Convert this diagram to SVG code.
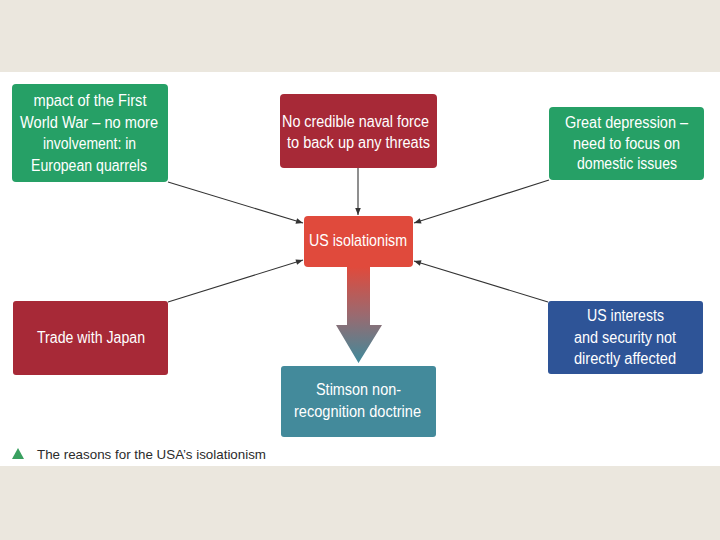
<svg xmlns="http://www.w3.org/2000/svg" width="720" height="540" viewBox="0 0 720 540">
<style>
.box{stroke:none}
.t{font-family:"Liberation Sans",Arial,sans-serif;font-size:16px;fill:#ffffff;text-anchor:middle}
.big{font-size:17px}
.cap{font-family:"Liberation Sans",Arial,sans-serif;font-size:13.5px;fill:#2b2b2b}
.con{stroke:#333333;stroke-width:1.1;fill:none;marker-end:url(#ah)}
</style>
<defs>
<marker id="ah" viewBox="0 0 10 10" refX="10" refY="5" markerWidth="9" markerHeight="7" markerUnits="userSpaceOnUse" orient="auto">
<path d="M0,1 L10,5 L0,9 Z" fill="#333333"/>
</marker>
<linearGradient id="grad" x1="0" y1="267" x2="0" y2="363" gradientUnits="userSpaceOnUse">
<stop offset="0" stop-color="#e04a3c"/>
<stop offset="0.5" stop-color="#9a6a70"/>
<stop offset="1" stop-color="#3f8a9b"/>
</linearGradient>
</defs>
<rect x="0" y="0" width="720" height="540" fill="#ebe7de"/>
<rect x="0" y="72" width="720" height="394" fill="#ffffff"/>

<g id="connectors">
<line class="con" x1="358" y1="168" x2="358" y2="215"/>
<line class="con" x1="168" y1="182" x2="303" y2="223"/>
<line class="con" x1="549" y1="180" x2="414" y2="223"/>
<line class="con" x1="168" y1="302" x2="303" y2="260"/>
<line class="con" x1="548" y1="302" x2="414" y2="261"/>
<path id="bigarrow" d="M347,266 L370,266 L370,325 L382,325 L358.5,363 L336,325 L347,325 Z" fill="url(#grad)"/>
</g>

<g id="n-impact">
<rect class="box" x="12" y="84" width="156" height="98" rx="4" fill="#26a066"/>
<text class="t" x="90" y="106" textLength="113" lengthAdjust="spacingAndGlyphs">mpact of the First</text>
<text class="t" x="89" y="127.5" textLength="138" lengthAdjust="spacingAndGlyphs">World War – no more</text>
<text class="t" x="89.5" y="149" textLength="93" lengthAdjust="spacingAndGlyphs">involvement: in</text>
<text class="t" x="89" y="170.5" textLength="116" lengthAdjust="spacingAndGlyphs">European quarrels</text>
</g>

<g id="n-naval">
<rect class="box" x="280" y="94" width="157" height="74" rx="4" fill="#a72937"/>
<text class="t" x="355.5" y="127" textLength="147" lengthAdjust="spacingAndGlyphs">No credible naval force</text>
<text class="t" x="358.5" y="147.5" textLength="143" lengthAdjust="spacingAndGlyphs">to back up any threats</text>
</g>

<g id="n-depression">
<rect class="box" x="549" y="107" width="155" height="73" rx="4" fill="#26a066"/>
<text class="t" x="626.5" y="128" textLength="123" lengthAdjust="spacingAndGlyphs">Great depression –</text>
<text class="t" x="626.5" y="148.5" textLength="107" lengthAdjust="spacingAndGlyphs">need to focus on</text>
<text class="t" x="627" y="169" textLength="100" lengthAdjust="spacingAndGlyphs">domestic issues</text>
</g>

<g id="n-isolationism">
<rect class="box" x="304" y="216" width="109" height="51" rx="4" fill="#e04a3c"/>
<text class="t big" x="358" y="246" textLength="98" lengthAdjust="spacingAndGlyphs">US isolationism</text>
</g>

<g id="n-japan">
<rect class="box" x="13" y="301" width="155" height="74" rx="3" fill="#a72937"/>
<text class="t" x="91" y="343" textLength="108" lengthAdjust="spacingAndGlyphs">Trade with Japan</text>
</g>

<g id="n-interests">
<rect class="box" x="548" y="301" width="155" height="73" rx="3" fill="#2e5497"/>
<text class="t" x="625.5" y="321" textLength="77" lengthAdjust="spacingAndGlyphs">US interests</text>
<text class="t" x="625" y="342.5" textLength="102" lengthAdjust="spacingAndGlyphs">and security not</text>
<text class="t" x="625" y="364" textLength="102" lengthAdjust="spacingAndGlyphs">directly affected</text>
</g>

<g id="n-stimson">
<rect class="box" x="281" y="366" width="155" height="71" rx="3" fill="#438a9b"/>
<text class="t" x="358.5" y="395" textLength="85" lengthAdjust="spacingAndGlyphs">Stimson non-</text>
<text class="t" x="357.5" y="416.5" textLength="127" lengthAdjust="spacingAndGlyphs">recognition doctrine</text>
</g>

<g id="caption">
<polygon points="12,459 18,448 24,459" fill="#3aa060"/>
<text class="cap" x="37" y="459" textLength="229" lengthAdjust="spacingAndGlyphs">The reasons for the USA’s isolationism</text>
</g>
</svg>
